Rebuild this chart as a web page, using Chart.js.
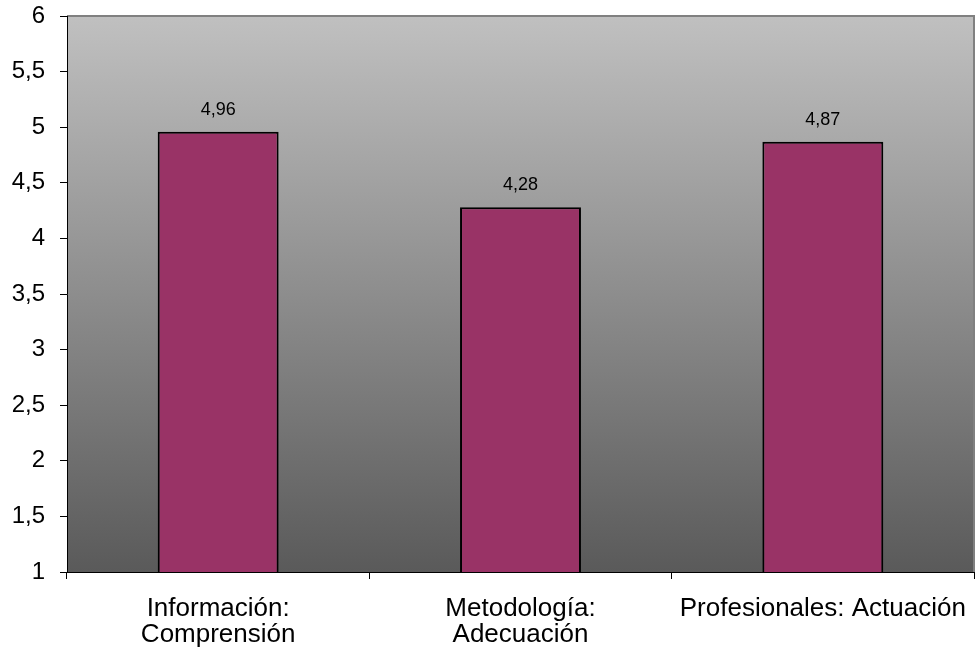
<!DOCTYPE html>
<html>
<head>
<meta charset="utf-8">
<script src="https://cdn.jsdelivr.net/npm/chart.js@4/dist/chart.umd.min.js"></script>
<style>
  html, body { margin: 0; padding: 0; background: #fff; }
  #wrap { width: 975px; height: 656px; position: relative; }
</style>
</head>
<body>
<div id="wrap"><canvas id="c"></canvas></div>
<script>
const categories = [["Información:", "Comprensión"], ["Metodología:", "Adecuación"], "Profesionales: Actuación"];
const values = [4.96, 4.28, 4.87];
const yMin = 1, yMax = 6, yStep = 0.5;

const fmt = v => String(v).replace('.', ',');

const bgPlugin = {
  id: 'bg',
  beforeDraw(chart) {
    const { ctx, chartArea: a } = chart;
    const g = ctx.createLinearGradient(0, a.top, 0, a.bottom);
    g.addColorStop(0, '#c0c0c0');
    g.addColorStop(1, '#5a5a5a');
    ctx.save();
    ctx.fillStyle = g;
    ctx.fillRect(a.left, a.top, a.right - a.left, a.bottom - a.top);
    ctx.strokeStyle = '#808080';
    ctx.lineWidth = 2;
    ctx.beginPath();
    ctx.moveTo(a.left, a.top);
    ctx.lineTo(a.right, a.top);
    ctx.lineTo(a.right, a.bottom);
    ctx.stroke();
    ctx.restore();
  }
};

const labelPlugin = {
  id: 'vlabels',
  afterDatasetsDraw(chart) {
    const { ctx } = chart;
    const meta = chart.getDatasetMeta(0);
    ctx.save();
    ctx.font = '18px "Liberation Sans", Arial, sans-serif';
    ctx.fillStyle = '#000';
    ctx.textAlign = 'center';
    ctx.textBaseline = 'alphabetic';
    meta.data.forEach((bar, i) => {
      ctx.fillText(fmt(values[i]), bar.x, bar.y - 17);
    });
    ctx.restore();
  }
};

new Chart(document.getElementById('c'), {
  type: 'bar',
  data: {
    labels: categories,
    datasets: [{
      data: values,
      backgroundColor: '#993366',
      borderColor: '#000',
      borderWidth: 2,
      borderSkipped: false,
      categoryPercentage: 1,
      barPercentage: 0.4
    }]
  },
  options: {
    responsive: true,
    maintainAspectRatio: false,
    animation: false,
    layout: { padding: { top: 16, right: 1, left: 0, bottom: 0 } },
    plugins: { legend: { display: false }, tooltip: { enabled: false } },
    scales: {
      y: {
        min: yMin, max: yMax,
        afterFit(s) { s.width = 67; s.paddingTop = 0; s.paddingBottom = 0; },
        ticks: {
          stepSize: yStep,
          padding: 15,
          color: '#000',
          font: { family: '"Liberation Sans", Arial, sans-serif', size: 24 },
          callback: v => fmt(v)
        },
        grid: { drawOnChartArea: false, tickLength: 7, color: '#000' },
        border: { color: '#000', width: 1 }
      },
      x: {
        afterFit(s) { s.height = 84; s.paddingLeft = 0; s.paddingRight = 0; },
        ticks: {
          padding: 17,
          maxRotation: 0,
          autoSkip: false,
          color: '#000',
          font: { family: '"Liberation Sans", Arial, sans-serif', size: 26, lineHeight: 1.0 }
        },
        grid: { offset: true, drawOnChartArea: false, tickLength: 7, color: '#000' },
        border: { color: '#000', width: 1 }
      }
    }
  },
  plugins: [bgPlugin, labelPlugin]
});
</script>
</body>
</html>
